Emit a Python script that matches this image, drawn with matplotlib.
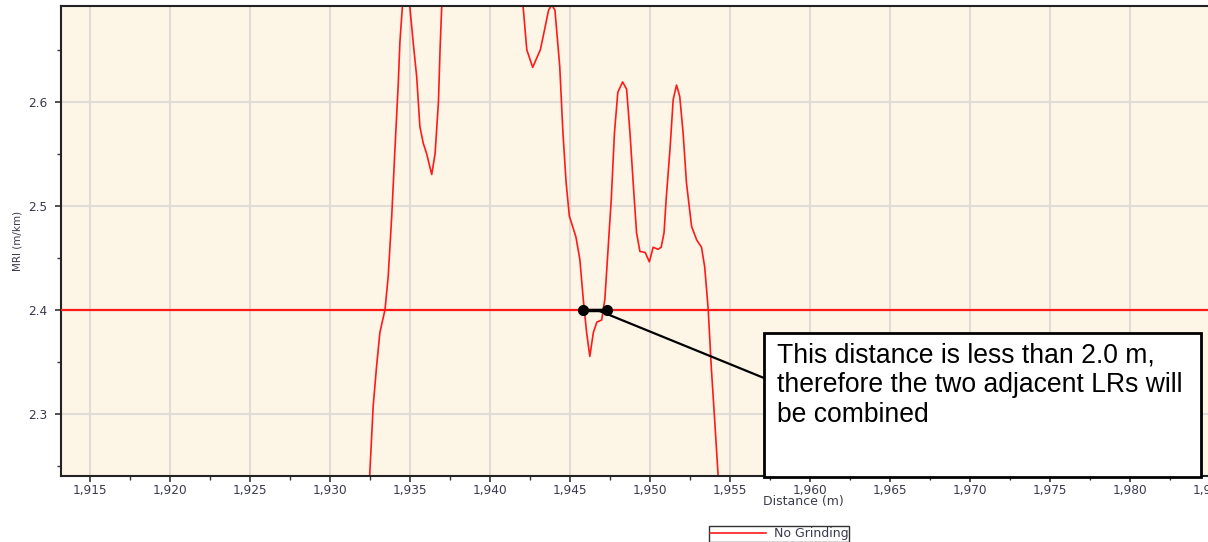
import matplotlib
matplotlib.use("Agg")
import matplotlib.pyplot as plt
from matplotlib.ticker import MultipleLocator, FuncFormatter
from matplotlib.patches import Rectangle

# ---- data ----
distance = [1932.18, 1932.48, 1932.70, 1932.91, 1933.12, 1933.44, 1933.64, 1933.86,
            1934.06, 1934.27, 1934.37, 1934.52, 1934.75, 1935.00, 1935.20, 1935.42,
            1935.62, 1935.83, 1936.04, 1936.36, 1936.57, 1936.78, 1936.88, 1936.98,
            1937.72, 1939.23, 1940.74, 1942.08, 1942.30, 1942.67, 1943.15, 1943.45,
            1943.66, 1943.86, 1944.06, 1944.36, 1944.56, 1944.76, 1944.96, 1945.37,
            1945.62, 1945.83, 1946.04, 1946.24, 1946.46, 1946.68, 1946.98, 1947.18,
            1947.38, 1947.58, 1947.78, 1947.99, 1948.29, 1948.54, 1948.75, 1948.95,
            1949.16, 1949.37, 1949.70, 1949.96, 1950.20, 1950.50, 1950.70, 1950.88,
            1951.01, 1951.25, 1951.45, 1951.66, 1951.86, 1952.07, 1952.28, 1952.60,
            1952.92, 1953.22, 1953.42, 1953.64, 1953.83, 1954.03, 1954.26, 1954.43]
mri = [2.18, 2.24, 2.307, 2.345, 2.378, 2.40, 2.432, 2.49,
       2.554, 2.618, 2.657, 2.69, 2.73, 2.69, 2.657, 2.624,
       2.576, 2.56, 2.55, 2.53, 2.55, 2.60, 2.65, 2.69,
       2.80, 2.85, 2.80, 2.69, 2.65, 2.633, 2.65, 2.672,
       2.688, 2.693, 2.688, 2.634, 2.57, 2.522, 2.49, 2.47,
       2.448, 2.41, 2.378, 2.355, 2.378, 2.388, 2.39, 2.41,
       2.458, 2.506, 2.57, 2.609, 2.619, 2.612, 2.57, 2.522,
       2.474, 2.456, 2.455, 2.446, 2.46, 2.458, 2.46, 2.474,
       2.506, 2.554, 2.602, 2.616, 2.605, 2.57, 2.522, 2.48,
       2.467, 2.46, 2.441, 2.40, 2.345, 2.297, 2.24, 2.18]
threshold = 2.4
gap_points = [1945.81, 1947.31]
pointer_x = 1946.88
series_label = "No Grinding"
x_label = "Distance (m)"
y_label = "MRI (m/km)"
note_text = "This distance is less than 2.0 m,\ntherefore the two adjacent LRs will\nbe combined"

# ---- figure ----
W, H = 1208, 542
fig = plt.figure(figsize=(W / 100, H / 100), dpi=100)
ax_l, ax_r, ax_t, ax_b = 61, 1216, 6, 476
ax = fig.add_axes([ax_l / W, 1 - ax_b / H, (ax_r - ax_l) / W, (ax_b - ax_t) / H])
ax.set_facecolor("#fdf5e6")

ax.set_xlim(1913.19, 1985.375)
ax.set_ylim(2.24, 2.692)

ax.xaxis.set_major_locator(MultipleLocator(5))
ax.xaxis.set_minor_locator(MultipleLocator(2.5))
ax.yaxis.set_major_locator(MultipleLocator(0.1))
ax.yaxis.set_minor_locator(MultipleLocator(0.05))
ax.xaxis.set_major_formatter(FuncFormatter(lambda v, p: f"{v:,.0f}"))
ax.yaxis.set_major_formatter(FuncFormatter(lambda v, p: f"{v:.1f}"))

lab_col = "#3a3a4e"
ax.tick_params(axis="both", which="major", direction="out", length=4, width=1.2,
               colors="#333333", labelcolor=lab_col, labelsize=8.7)
ax.tick_params(axis="x", which="major", pad=1.5)
ax.tick_params(axis="y", which="major", pad=6)
ax.tick_params(axis="both", which="minor", direction="out", length=3, width=1.0,
               colors="#333333")
ax.grid(True, which="major", color="#e0ddd6", linewidth=1.5)
ax.set_axisbelow(True)

for s in ["left", "bottom", "top"]:
    ax.spines[s].set_color("#222222")
    ax.spines[s].set_linewidth(1.5)
ax.spines["right"].set_visible(False)

ax.set_xlabel(x_label, fontsize=9, color=lab_col)
ax.xaxis.set_label_coords((803 - ax_l) / (ax_r - ax_l), -(495 - ax_b) / (ax_b - ax_t))
ax.set_ylabel(y_label, fontsize=7.5, color=lab_col)
ax.yaxis.set_label_coords(-(ax_l - 22) / (ax_r - ax_l), 0.5)

# curve and threshold
line, = ax.plot(distance, mri, color="#ff1a1a", linewidth=1.2, label=series_label)
ax.axhline(threshold, color="#ff1a1a", linewidth=1.6, zorder=3)

# gap markers
ax.plot(gap_points, [threshold] * len(gap_points), color="black", linewidth=2.5,
        marker="o", markersize=7, zorder=5)

# callout box
box_l, box_r, box_t, box_b = 764, 1201, 333, 477
bx0 = (box_l - ax_l) / (ax_r - ax_l)
bx1 = (box_r - ax_l) / (ax_r - ax_l)
by1 = (ax_b - box_t) / (ax_b - ax_t)
by0 = (ax_b - box_b) / (ax_b - ax_t)
rect = Rectangle((bx0, by0), bx1 - bx0, by1 - by0, transform=ax.transAxes,
                 facecolor="white", edgecolor="black", linewidth=2, zorder=6,
                 clip_on=False)
ax.add_patch(rect)
ax.text(bx0 + 13 / (ax_r - ax_l), by1 - 9 / (ax_b - ax_t), note_text,
        transform=ax.transAxes, ha="left", va="top", fontsize=19.1,
        family="Liberation Sans", color="black", linespacing=1.2, zorder=7)
ax.annotate("", xy=(pointer_x, threshold - 0.0015), xycoords="data",
            xytext=(bx0, (ax_b - 378) / (ax_b - ax_t)), textcoords="axes fraction",
            arrowprops=dict(arrowstyle="-", color="black", linewidth=1.6,
                            shrinkA=0, shrinkB=0), zorder=5)

# legend
leg = fig.legend(handles=[line], loc="center",
                 bbox_to_anchor=(779 / W, 1 - 534 / H), fontsize=9,
                 frameon=True, fancybox=False, edgecolor="black",
                 handlelength=4.5, borderpad=0.1, handletextpad=0.6,
                 borderaxespad=0)
leg.get_frame().set_linewidth(1.0)
for t in leg.get_texts():
    t.set_color(lab_col)

fig.savefig("out.png", dpi=100)
